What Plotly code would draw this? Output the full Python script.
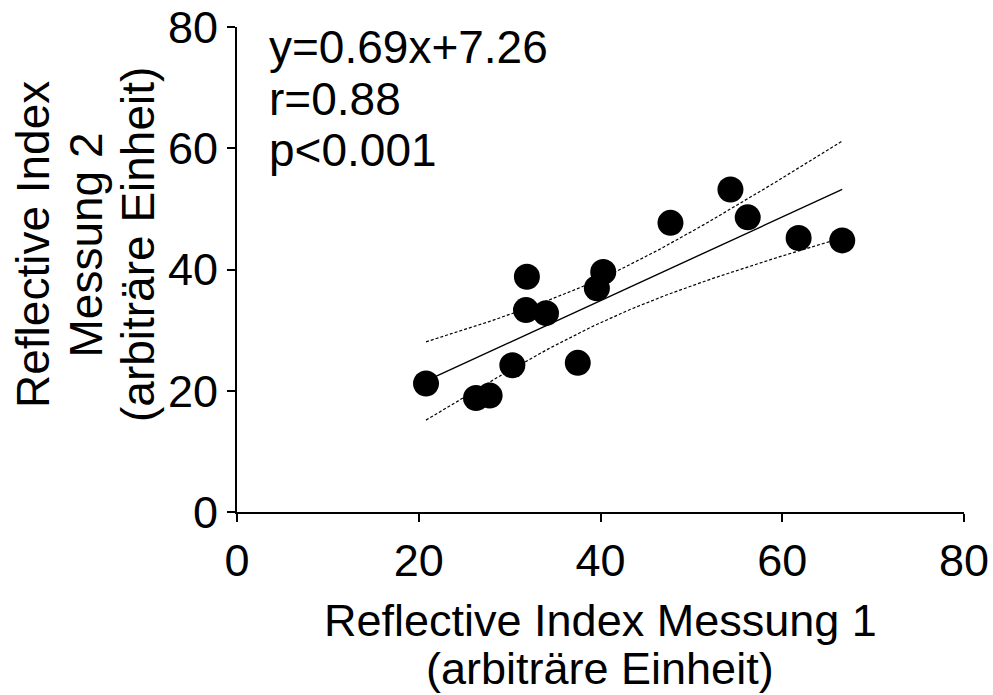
import numpy as np
import plotly.graph_objects as go

# Reflective index, measurement 1 vs. measurement 2 (arbitrary units)
messung_1 = [20.8, 26.3, 27.8, 30.3, 37.5, 31.9, 31.8, 34.0, 39.6, 40.3,
             47.7, 54.3, 56.2, 61.8, 66.6]
messung_2 = [21.2, 18.8, 19.2, 24.2, 24.6, 38.8, 33.3, 32.8, 36.9, 39.6,
             47.7, 53.2, 48.6, 45.2, 44.8]

slope = 0.69
intercept = 7.26
stat_lines = ["y=0.69x+7.26", "r=0.88", "p<0.001"]
x_title_lines = ["Reflective Index Messung 1", "(arbiträre Einheit)"]
y_title_lines = ["Reflective Index", "Messung 2", "(arbiträre Einheit)"]

x_ticks = [0, 20, 40, 60, 80]
y_ticks = [0, 20, 40, 60, 80]

x = np.array(messung_1)
y = np.array(messung_2)
n = len(x)

# regression line and 95% confidence band of the mean
xf = np.linspace(x.min(), x.max(), 100)
yf = slope * xf + intercept
resid = y - (slope * x + intercept)
s = np.sqrt(np.sum(resid ** 2) / (n - 2))
sxx = np.sum((x - x.mean()) ** 2)
t_crit = 2.160  # t(0.975, df=13)
half = t_crit * s * np.sqrt(1.0 / n + (xf - x.mean()) ** 2 / sxx)

FONT = "Liberation Sans, Arial, sans-serif"
W, H = 993, 695
ML, MR, MT, MB = 237, 29, 27, 183
PW, PH = W - ML - MR, H - MT - MB


def px_x(p):
    """pixel column -> paper x"""
    return (p - ML) / PW


def px_y(p):
    """pixel row -> paper y"""
    return (H - MB - p) / PH


fig = go.Figure()
fig.add_trace(go.Scatter(x=xf, y=yf + half, mode="lines",
                         line=dict(color="black", width=1.2, dash="3px,2px")))
fig.add_trace(go.Scatter(x=xf, y=yf - half, mode="lines",
                         line=dict(color="black", width=1.2, dash="3px,2px")))
fig.add_trace(go.Scatter(x=xf, y=yf, mode="lines",
                         line=dict(color="black", width=1.4)))
fig.add_trace(go.Scatter(x=messung_1, y=messung_2, mode="markers",
                         marker=dict(color="black", size=26, line=dict(width=0))))

axis_common = dict(
    showgrid=False, zeroline=False, showline=True, linecolor="black",
    linewidth=2, ticks="outside", ticklen=8, tickwidth=2, tickcolor="black",
    tickfont=dict(family=FONT, size=45, color="black"), automargin=False,
)
fig.update_xaxes(range=[0, 80], tickvals=x_ticks, **axis_common)
fig.update_yaxes(range=[0, 80], tickvals=y_ticks, **axis_common)

font = dict(family=FONT, size=46, color="black")
annotations = []
for i, line in enumerate(stat_lines):
    annotations.append(dict(
        x=px_x(267), y=px_y(47 + i * 51.5), xref="paper", yref="paper",
        text=line, showarrow=False, xanchor="left", yanchor="middle",
        font=font))

for i, line in enumerate(x_title_lines):
    annotations.append(dict(
        x=px_x(600), y=px_y(620.5 + i * 48), xref="paper", yref="paper",
        text=line, showarrow=False, xanchor="center", yanchor="middle",
        borderpad=0, font=dict(family=FONT, size=45, color="black")))

for i, line in enumerate(y_title_lines):
    annotations.append(dict(
        x=px_x(33 + i * 52.5), y=px_y(245), xref="paper", yref="paper",
        text=line, showarrow=False, textangle=-90,
        xanchor="center", yanchor="middle", font=font))

fig.update_layout(
    width=W, height=H,
    margin=dict(l=ML, r=MR, t=MT, b=MB, autoexpand=False),
    paper_bgcolor="white", plot_bgcolor="white",
    showlegend=False,
    annotations=annotations,
)

fig.write_html("out.html")
